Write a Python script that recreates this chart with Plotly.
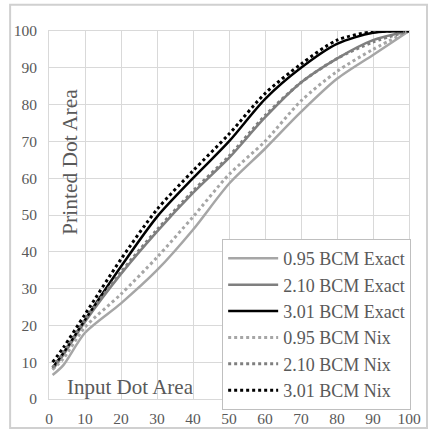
import plotly.graph_objects as go

x_vals = [1, 4, 10, 20, 30, 40, 50, 60, 70, 80, 90, 100]

exact_095 = [6.5, 9.2, 18, 26, 35, 46, 58.5, 68, 78, 87, 93.5, 100]
exact_210 = [8, 12, 21, 34, 45.5, 56, 65.5, 76.5, 86, 92.5, 97.5, 100]
exact_301 = [8.5, 12.5, 21.5, 36, 49.5, 60, 70, 81.5, 90, 96.5, 99.5, 100]
nix_095 = [8, 11, 19.5, 28.5, 38.5, 49.5, 61, 70, 81, 89, 95, 100]
nix_210 = [8.5, 12.5, 21.5, 34.5, 46, 56.5, 66, 77, 86, 92.5, 97, 100]
nix_301 = [10, 14, 23, 38, 51.5, 62, 72, 83, 91, 97.5, 99.8, 100]

tick_vals = [0, 10, 20, 30, 40, 50, 60, 70, 80, 90, 100]

series = [
    ("0.95 BCM Exact", exact_095, "#a6a6a6", "solid"),
    ("2.10 BCM Exact", exact_210, "#7f7f7f", "solid"),
    ("3.01 BCM Exact", exact_301, "#000000", "solid"),
    ("0.95 BCM Nix", nix_095, "#a6a6a6", "dot"),
    ("2.10 BCM Nix", nix_210, "#7f7f7f", "dot"),
    ("3.01 BCM Nix", nix_301, "#000000", "dot"),
]

FONT = "Liberation Serif, Times New Roman, serif"
TXT = "#595959"
GRID = "#d9d9d9"
BORDER = "#d0d0d0"

fig = go.Figure()
for name, ys, col, dash in series:
    fig.add_trace(go.Scatter(
        x=x_vals, y=ys, name=name, mode="lines",
        line=dict(color=col, width=2.5 if dash == "solid" else 3, dash=dash, shape="spline", smoothing=0.8),
    ))

axis_common = dict(
    range=[0, 100], tickvals=tick_vals, showgrid=True, gridcolor=GRID, gridwidth=1,
    zeroline=False, showline=True, linecolor=GRID, mirror=True, ticks="",
    tickfont=dict(family=FONT, size=15.5, color=TXT), automargin=False,
)

frame_x0, frame_x1 = -0.108, 1.05
frame_y0, frame_y1 = -0.079, 1.071

fig.update_layout(
    width=428, height=431,
    margin=dict(l=49, r=19, t=31, b=32),
    paper_bgcolor="white", plot_bgcolor="white",
    font=dict(family=FONT, color=TXT, size=15),
    showlegend=True,
    legend=dict(
        x=1.006, xanchor="right", y=-0.03, yanchor="bottom",
        bgcolor="white", bordercolor="#bfbfbf", borderwidth=1,
        font=dict(family=FONT, size=18, color=TXT),
        tracegroupgap=0, itemwidth=50,
    ),
    xaxis=dict(axis_common, ticklabelstandoff=5),
    yaxis=dict(axis_common, ticklabelstandoff=8),
    shapes=[dict(
        type="rect", xref="paper", yref="paper",
        x0=frame_x0, x1=frame_x1, y0=frame_y0, y1=frame_y1,
        line=dict(color=BORDER, width=2), fillcolor="rgba(0,0,0,0)", layer="above",
    )],
    annotations=[
        dict(text="Printed Dot Area", xref="paper", yref="paper", x=0.058, y=0.644,
             textangle=-90, showarrow=False, font=dict(family=FONT, size=21.5, color=TXT),
             xanchor="center", yanchor="middle"),
        dict(text="Input Dot Area", xref="paper", yref="paper", x=0.225, y=0.033,
             showarrow=False, font=dict(family=FONT, size=21, color=TXT),
             xanchor="center", yanchor="middle"),
    ],
)

fig.write_html("out.html", config={"displayModeBar": False},
               post_script="document.body.style.margin='0px';")
